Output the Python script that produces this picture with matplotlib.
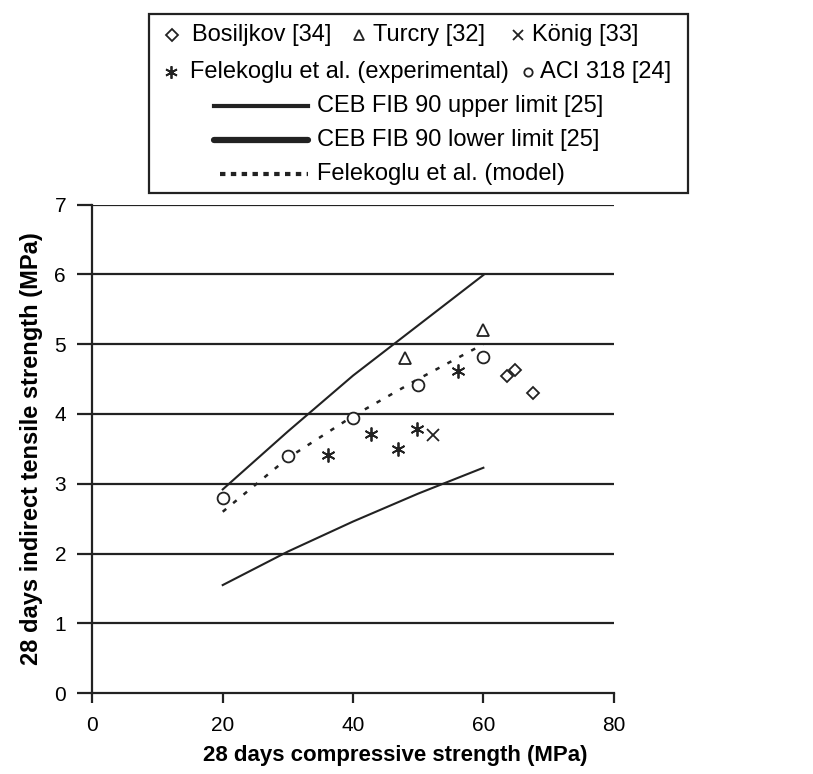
import matplotlib
matplotlib.use("Agg")
import matplotlib.pyplot as plt
from matplotlib.patches import Rectangle

plt.rcParams['font.family'] = ['Liberation Sans', 'DejaVu Sans']

# data
bos_x = [63.6, 64.9, 67.6]
bos_y = [4.54, 4.63, 4.30]
tur_x = [48.0, 60.0]
tur_y = [4.80, 5.20]
kon_x = [52.3]
kon_y = [3.70]
fel_x = [36.2, 42.8, 46.9, 49.8, 56.1]
fel_y = [3.41, 3.71, 3.50, 3.79, 4.61]
aci_x = [20, 30, 40, 50, 60]
aci_y = [2.80, 3.40, 3.94, 4.41, 4.82]

line_x = [20, 30, 40, 50, 60]
upper_y = [2.92, 3.75, 4.55, 5.27, 5.99]
lower_y = [1.55, 2.03, 2.46, 2.86, 3.23]
model_y = [2.60, 3.37, 3.97, 4.50, 5.00]

ink = "#222222"

fig = plt.figure(figsize=(8.13, 7.74), dpi=100)
W, H = 813, 774

# main axes
ax = fig.add_axes([92.4 / W, 1 - 693.3 / H, (613.7 - 92.4) / W, (693.3 - 204.5) / H])
ax.set_xlim(0, 80)
ax.set_ylim(0, 7)
ax.set_xticks([0, 20, 40, 60, 80])
ax.set_yticks(range(8))
for y in range(1, 8):
    ax.axhline(y, color=ink, lw=1.6, zorder=1)
ax.spines['top'].set_visible(False)
ax.spines['right'].set_visible(False)
for s in ['left', 'bottom']:
    ax.spines[s].set_color(ink)
    ax.spines[s].set_linewidth(1.6)
ax.tick_params(axis='y', direction='out', length=11, width=1.6, color=ink, labelsize=15, pad=8)
ax.tick_params(axis='x', direction='out', length=7, width=1.6, color=ink, labelsize=15, pad=9)
ax.set_xlabel("28 days compressive strength (MPa)", fontsize=16, fontweight='bold', labelpad=8)
ax.xaxis.set_label_coords(0.58, -0.105)
ax.set_ylabel("28 days indirect tensile strength (MPa)", fontsize=17, fontweight='bold', labelpad=8)

ax.plot(line_x, upper_y, color=ink, lw=1.5, zorder=3)
ax.plot(line_x, lower_y, color=ink, lw=1.5, zorder=3)
ax.plot(line_x, model_y, color=ink, lw=1.8, ls=(0, (1.8, 3.6)), zorder=3)

mk = dict(ls='none', mfc='white', mec=ink, mew=1.3, zorder=4)
ax.plot(bos_x, bos_y, marker='D', ms=6.5, **mk)
ax.plot(tur_x, tur_y, marker='^', ms=9, **mk)
ax.plot(kon_x, kon_y, marker='x', ms=9, **mk)
ax.plot(fel_x, fel_y, marker=(6, 2, 0), ms=10, **mk)
ax.plot(aci_x, aci_y, marker='o', ms=8.5, **mk)

# legend box drawn by hand
lax = fig.add_axes([0, 0, 1, 1], facecolor='none')
lax.set_xlim(0, W)
lax.set_ylim(H, 0)
lax.axis('off')
lax.add_patch(Rectangle((149, 14), 688 - 149, 193 - 14, fill=False, ec=ink, lw=1.6))

fs = 17
lmk = dict(ls='none', mfc='white', mec=ink, mew=1.3)
r1, r2, r3, r4, r5 = 35, 72, 106, 140, 174
lax.plot([172], [r1], marker='D', ms=6, **lmk)
lax.text(192, r1, "Bosiljkov [34]", fontsize=fs, va='center')
lax.plot([359], [r1], marker='^', ms=7, **lmk)
lax.text(373, r1, "Turcry [32]", fontsize=fs, va='center')
lax.plot([518], [r1], marker='x', ms=7, **lmk)
lax.text(532, r1, "König [33]", fontsize=fs, va='center')

lax.plot([171], [r2], marker=(6, 2, 0), ms=9, **lmk)
lax.text(190, r2, "Felekoglu et al. (experimental)", fontsize=fs, va='center')
lax.plot([528], [r2], marker='o', ms=6, **lmk)
lax.text(540, r2, "ACI 318 [24]", fontsize=fs, va='center')

lax.plot([214, 308], [r3, r3], color=ink, lw=3)
lax.text(317, r3, "CEB FIB 90 upper limit [25]", fontsize=fs, va='center')
lax.plot([214, 308], [r4, r4], color=ink, lw=4.5, solid_capstyle='round')
lax.text(317, r4, "CEB FIB 90 lower limit [25]", fontsize=fs, va='center')
lax.plot([220, 308], [r5, r5], color=ink, lw=3, ls=(0, (1.3, 1.3)))
lax.text(317, r5, "Felekoglu et al. (model)", fontsize=fs, va='center')

fig.savefig("out.png", dpi=100)
